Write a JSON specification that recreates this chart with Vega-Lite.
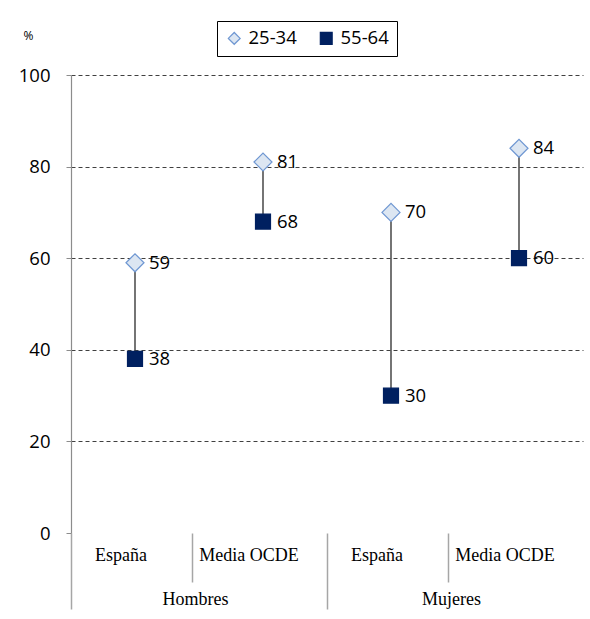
{
  "$schema": "https://vega.github.io/schema/vega-lite/v6.json",
  "width": 512,
  "height": 458,
  "autosize": {"type": "none"},
  "padding": {"left": 71, "top": 75, "right": 7, "bottom": 86},
  "background": "white",
  "config": {
    "view": {"stroke": null},
    "axisY": {
      "grid": true,
      "gridColor": "#404040",
      "gridDash": [4, 3],
      "gridWidth": 1,
      "domainColor": "#8c8c8c",
      "domainWidth": 1.2,
      "tickColor": "#8c8c8c",
      "tickSize": 5,
      "labelPadding": 16,
      "labelFont": "Open Sans",
      "labelFontSize": 18.5,
      "labelColor": "#000000",
      "titleFont": "Open Sans",
      "titleFontSize": 12,
      "titleFontWeight": "normal",
      "titleColor": "#000000",
      "titleAngle": 0,
      "titleX": -43,
      "titleY": -40,
      "titleAlign": "center",
      "titleBaseline": "middle"
    },
    "legend": {
      "title": null,
      "orient": "none",
      "legendX": 146,
      "legendY": -54,
      "direction": "horizontal",
      "strokeColor": "#000000",
      "fillColor": "#ffffff",
      "padding": 8,
      "labelFont": "Open Sans",
      "labelFontSize": 18.5,
      "labelColor": "#000000",
      "labelOffset": 5,
      "columnPadding": 20,
      "symbolSize": 140,
      "symbolStrokeWidth": 1.2
    }
  },
  "data": {
    "values": [
      {"cat": "España|Hombres", "grupo": "Hombres", "25-34": 59, "55-64": 38},
      {"cat": "Media OCDE|Hombres", "grupo": "Hombres", "25-34": 81, "55-64": 68},
      {"cat": "España|Mujeres", "grupo": "Mujeres", "25-34": 70, "55-64": 30},
      {"cat": "Media OCDE|Mujeres", "grupo": "Mujeres", "25-34": 84, "55-64": 60}
    ]
  },
  "layer": [
    {
      "layer": [
        {
          "mark": {"type": "rule", "color": "#3a3a3a", "strokeWidth": 1.4},
          "encoding": {
            "x": {
              "field": "cat",
              "type": "nominal",
              "sort": null,
              "scale": {"type": "band", "paddingInner": 0, "paddingOuter": 0, "domain": ["España|Hombres", "Media OCDE|Hombres", "España|Mujeres", "Media OCDE|Mujeres"]},
              "axis": {
                "orient": "bottom",
                "title": null,
                "domain": false,
                "grid": false,
                "bandPosition": 0.95,
                "tickSize": 49,
                "tickColor": "#a6a6a6",
                "tickWidth": 1.5,
                "tickOpacity": {"condition": {"test": "datum.value === 'España|Hombres' || datum.value === 'España|Mujeres'", "value": 1}, "value": 0},
                "labelOffset": -14,
                "labelPadding": -36,
                "labelExpr": "datum.value ? split(datum.value, '|')[0] : ''",
                "labelFont": "Liberation Serif",
                "labelFontSize": 18,
                "labelColor": "#000000",
                "labelAngle": 0,
                "labelBaseline": "top"
              }
            },
            "y": {
              "field": "25-34",
              "type": "quantitative",
              "title": "%",
              "scale": {"domain": [0, 100], "nice": false},
              "axis": {
                "values": [0, 20, 40, 60, 80, 100],
                "gridOpacity": {"condition": {"test": "datum.value === 0", "value": 0}, "value": 1}
              }
            },
            "y2": {"field": "55-64"}
          }
        },
        {
          "transform": [
            {"fold": ["25-34", "55-64"], "as": ["edad", "valor"]},
            {"filter": "datum.edad === '25-34'"}
          ],
          "mark": {"type": "point", "filled": true, "opacity": 1, "strokeWidth": 1.2, "size": 324},
          "encoding": {
            "x": {"field": "cat", "type": "nominal", "sort": null, "title": null},
            "y": {"field": "valor", "type": "quantitative", "title": "%"},
            "shape": {"field": "edad", "type": "nominal", "scale": {"domain": ["25-34", "55-64"], "range": ["diamond", "square"]}},
            "fill": {"field": "edad", "type": "nominal", "scale": {"domain": ["25-34", "55-64"], "range": ["#dce6f2", "#002060"]}},
            "stroke": {"field": "edad", "type": "nominal", "scale": {"domain": ["25-34", "55-64"], "range": ["#6f97d2", "#002060"]}}
          }
        },
        {
          "transform": [
            {"fold": ["25-34", "55-64"], "as": ["edad", "valor"]},
            {"filter": "datum.edad === '55-64'"}
          ],
          "mark": {"type": "point", "filled": true, "opacity": 1, "strokeWidth": 1.2, "size": 225},
          "encoding": {
            "x": {"field": "cat", "type": "nominal", "sort": null, "title": null},
            "y": {"field": "valor", "type": "quantitative", "title": "%"},
            "shape": {"field": "edad", "type": "nominal", "scale": {"domain": ["25-34", "55-64"], "range": ["diamond", "square"]}},
            "fill": {"field": "edad", "type": "nominal", "scale": {"domain": ["25-34", "55-64"], "range": ["#dce6f2", "#002060"]}},
            "stroke": {"field": "edad", "type": "nominal", "scale": {"domain": ["25-34", "55-64"], "range": ["#6f97d2", "#002060"]}}
          }
        },
        {
          "transform": [{"fold": ["25-34", "55-64"], "as": ["edad", "valor"]}],
          "mark": {"type": "text", "align": "left", "baseline": "middle", "dx": 14, "font": "Open Sans", "fontSize": 18.5, "color": "#000000"},
          "encoding": {
            "x": {"field": "cat", "type": "nominal", "sort": null, "title": null},
            "y": {"field": "valor", "type": "quantitative", "title": "%"},
            "text": {"field": "valor", "type": "quantitative"}
          }
        }
      ]
    },
    {
      "mark": {"type": "text", "text": ""},
      "encoding": {
        "x": {
          "field": "grupo",
          "type": "nominal",
          "scale": {"type": "band", "paddingInner": 0, "paddingOuter": 0, "domain": ["Hombres", "Mujeres"]},
          "axis": {
            "orient": "bottom",
            "title": null,
            "domain": false,
            "grid": false,
            "tickBand": "extent",
            "tickSize": 76,
            "tickColor": "#a6a6a6",
            "tickWidth": 1.5,
            "tickOpacity": {"condition": {"test": "datum.value === 'Hombres' || !datum.value", "value": 1}, "value": 0},
            "labelOffset": -4,
            "labelPadding": -19,
            "labelFont": "Liberation Serif",
            "labelFontSize": 18,
            "labelColor": "#000000",
            "labelAngle": 0,
            "labelBaseline": "top"
          }
        }
      }
    }
  ],
  "resolve": {"scale": {"x": "independent"}}
}
